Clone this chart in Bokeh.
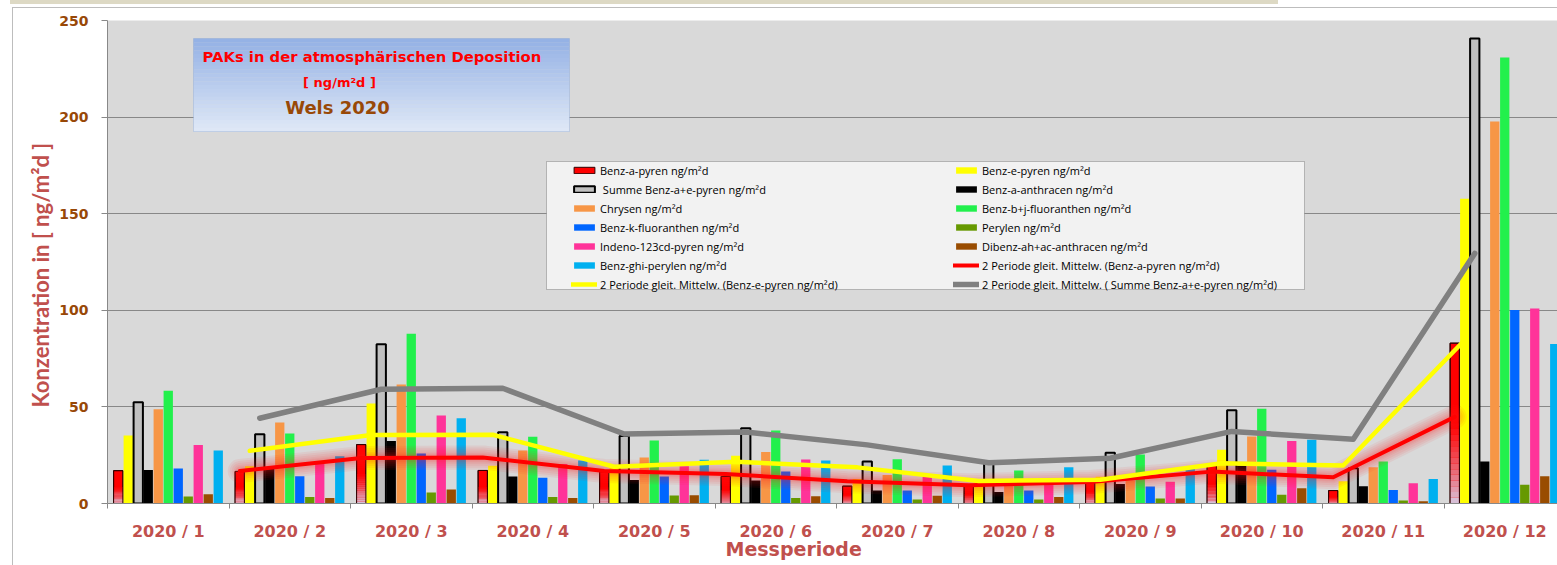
import numpy as np
import pandas as pd
from bokeh.plotting import figure
from bokeh.models import (FixedTicker, Legend, LegendItem, Label, BoxAnnotation,
                          ColumnDataSource, Range1d, Title)
from bokeh.embed import file_html
from bokeh.resources import INLINE

# ---------------- data ----------------
periods = list(range(1, 13))
period_labels = [f"2020 / {i}" for i in periods]

benz_a_pyren = [17.0, 16.6, 30.5, 17.1, 16.5, 14.0, 9.0, 9.8, 12.5, 20.5, 6.7, 83.0]
benz_e_pyren = [35.2, 19.3, 51.7, 19.5, 18.5, 24.7, 12.7, 10.7, 13.8, 27.8, 11.5, 157.7]
summe_a_e = [52.4, 35.9, 82.4, 36.9, 35.0, 39.0, 21.7, 20.5, 26.3, 48.3, 18.2, 240.7]
benz_a_anthracen = [17.4, 18.0, 32.4, 14.0, 12.2, 11.9, 6.7, 5.9, 10.1, 19.6, 8.9, 21.7]
chrysen = [48.8, 41.9, 61.6, 27.4, 23.8, 26.6, 14.8, 11.5, 12.0, 34.7, 18.7, 197.7]
benz_bj_fluoranthen = [58.3, 36.2, 87.9, 34.5, 32.6, 37.8, 22.9, 17.1, 25.3, 49.1, 21.8, 230.8]
benz_k_fluoranthen = [18.1, 14.1, 25.9, 13.3, 14.0, 16.6, 6.7, 6.7, 8.8, 17.5, 7.0, 100.2]
perylen = [3.6, 3.4, 5.7, 3.4, 4.1, 2.9, 2.1, 2.1, 2.6, 4.5, 1.5, 9.7]
indeno_pyren = [30.3, 20.5, 45.5, 20.5, 19.3, 22.8, 14.0, 11.0, 11.3, 32.3, 10.5, 100.9]
dibenz_anthracen = [4.8, 2.8, 7.2, 2.8, 4.3, 3.8, 4.0, 3.3, 2.6, 7.9, 1.2, 14.1]
benz_ghi_perylen = [27.4, 24.5, 44.1, 22.2, 22.6, 22.2, 19.7, 18.8, 17.9, 33.0, 12.7, 82.6]

y_ticks = [0, 50, 100, 150, 200, 250]

# ---------------- layout ----------------
W, H = 1557, 565
PAGE_L, PAGE_T, PAGE_B = 107, 20, 503      # frame edges in the picture
CAT_PX = 121.5
frame_w = W - PAGE_L
X0 = 0.5
X1 = X0 + frame_w / CAT_PX
PX_PER_Y = (PAGE_B - PAGE_T) / 250.0


def dx(px):
    return X0 + (px - PAGE_L) / CAT_PX


def dy(py):
    return (PAGE_B - py) / PX_PER_Y


p = figure(width=W, height=H, x_range=Range1d(X0, X1), y_range=Range1d(0, 250),
           output_backend="svg", toolbar_location=None,
           min_border_left=PAGE_L, min_border_right=0,
           min_border_top=PAGE_T, min_border_bottom=H - PAGE_B)
p.background_fill_color = "#d9d9d9"
p.border_fill_color = None
p.outline_line_color = None
p.styles = {
    "background-color": "white",
    "background-image": ("linear-gradient(#ddd9c4, #ddd9c4), "
                         "linear-gradient(#bdbdbd, #bdbdbd), "
                         "linear-gradient(#bdbdbd, #bdbdbd)"),
    "background-size": "1268px 4px, 100% 1px, 1px 100%",
    "background-position": "10px 0px, 12px 7px, 12px 7px",
    "background-repeat": "no-repeat",
}
p.xgrid.grid_line_color = None
p.ygrid.grid_line_color = "#888888"
p.ygrid.grid_line_width = 1

# axes
p.yaxis.ticker = FixedTicker(ticks=y_ticks)
p.yaxis.axis_line_color = "#888888"
p.yaxis.major_tick_line_color = "#888888"
p.yaxis.major_tick_out = 6
p.yaxis.major_tick_in = 0
p.yaxis.minor_tick_line_color = None
p.yaxis.major_label_text_font = "DejaVu Sans"
p.yaxis.major_label_text_font_style = "bold"
p.yaxis.major_label_text_font_size = "14px"
p.yaxis.major_label_text_color = "#984807"
p.yaxis.major_label_standoff = 13

p.xaxis.ticker = FixedTicker(ticks=periods, minor_ticks=[i + 0.5 for i in range(0, 13)])
p.xaxis.major_label_overrides = {i: lab for i, lab in zip(periods, period_labels)}
p.xaxis.axis_line_color = "#888888"
p.xaxis.major_tick_line_color = None
p.xaxis.major_tick_out = 0
p.xaxis.major_tick_in = 0
p.xaxis.minor_tick_line_color = "#888888"
p.xaxis.minor_tick_out = 5
p.xaxis.minor_tick_in = 0
p.xaxis.major_label_text_font = "DejaVu Sans"
p.xaxis.major_label_text_font_style = "bold"
p.xaxis.major_label_text_font_size = "16px"
p.xaxis.major_label_text_color = "#c0504d"
p.xaxis.major_label_standoff = 13

# axis titles as side titles (placed off-centre like the reference)
p.add_layout(Title(text="Konzentration in [ ng/m²d ]", align="left", offset=PAGE_B - 407,
                   standoff=5, text_font="Lato", text_font_style="bold",
                   text_font_size="22px", text_color="#c0504d"), "left")
p.add_layout(Title(text="Messperiode", align="left", offset=725 - PAGE_L, standoff=-12,
                   vertical_align="top",
                   text_font="DejaVu Sans", text_font_style="bold",
                   text_font_size="19px", text_color="#c0504d"), "below")

# ---------------- bars ----------------
SLOT = 10.0 / CAT_PX
BW = 9.3 / CAT_PX
px = np.array(periods, dtype=float)


def xoff(k):
    return px + (k - 5) * SLOT


series = [
    ("Benz-a-pyren ng/m²d", benz_a_pyren, "#ff0000"),
    ("Benz-e-pyren ng/m²d", benz_e_pyren, "#ffff00"),
    (" Summe Benz-a+e-pyren ng/m²d", summe_a_e, "#c0c0c0"),
    ("Benz-a-anthracen ng/m²d", benz_a_anthracen, "#000000"),
    ("Chrysen ng/m²d", chrysen, "#f79646"),
    ("Benz-b+j-fluoranthen ng/m²d", benz_bj_fluoranthen, "#22f04c"),
    ("Benz-k-fluoranthen ng/m²d", benz_k_fluoranthen, "#0066ff"),
    ("Perylen ng/m²d", perylen, "#669900"),
    ("Indeno-123cd-pyren ng/m²d", indeno_pyren, "#ff3399"),
    ("Dibenz-ah+ac-anthracen ng/m²d", dibenz_anthracen, "#994c00"),
    ("Benz-ghi-perylen ng/m²d", benz_ghi_perylen, "#00b0f0"),
]

rend = {}
for k, (name, vals, col) in enumerate(series):
    src = ColumnDataSource(dict(x=xoff(k), top=np.array(vals)))
    if k == 0:
        r = p.vbar(x="x", top="top", width=BW, source=src, fill_color=col,
                   line_color="#300000", line_width=1)
        # gradient in the lower half of the red bars
        vals_arr = np.array(vals)
        nsl = 14
        c0 = np.array([214, 206, 230])
        c1 = np.array([255, 0, 0])
        for j in range(nsl):
            f0 = 0.5 * j / nsl
            f1 = 0.5 * (j + 1) / nsl
            t = (j + 0.5) / nsl
            c = (c0 + (c1 - c0) * t ** 0.8).astype(int)
            p.vbar(x=xoff(k), bottom=vals_arr * f0, top=vals_arr * f1, width=BW,
                   fill_color="#%02x%02x%02x" % tuple(c), line_color=None)
        p.vbar(x=xoff(k), top=vals_arr, width=BW, fill_color=None,
               line_color="#300000", line_width=1)
    elif k == 2:
        r = p.vbar(x="x", top="top", width=BW, source=src, fill_color=col,
                   line_color="#000000", line_width=2)
    else:
        r = p.vbar(x="x", top="top", width=BW, source=src, fill_color=col,
                   line_color=None)
    rend[k] = r

# ---------------- 2-period moving averages ----------------
ma_red = pd.Series(benz_a_pyren).rolling(2).mean().to_numpy()[1:]
ma_yel = pd.Series(benz_e_pyren).rolling(2).mean().to_numpy()[1:]
ma_sum = pd.Series(summe_a_e).rolling(2).mean().to_numpy()[1:]

for w in [24, 20, 16, 12, 9, 7]:
    p.line(xoff(0)[1:], ma_red, line_color="#ff2020", line_width=w, line_alpha=0.07,
           line_join="round", line_cap="round")
r_rma = p.line(xoff(0)[1:], ma_red, line_color="#ff0000", line_width=4,
               line_join="round", line_cap="round")
r_yma = p.line(xoff(1)[1:], ma_yel, line_color="#ffff00", line_width=4.5,
               line_join="round", line_cap="round")
r_gma = p.line(xoff(2)[1:], ma_sum, line_color="#808080", line_width=5.5,
               line_join="round", line_cap="round")

# ---------------- legend ----------------
p.add_layout(BoxAnnotation(left=dx(546), right=dx(1304), top=dy(161), bottom=dy(289),
                           fill_color="#f2f2f2", fill_alpha=1, line_color="#404040",
                           line_width=1, level="underlay"))

col1 = [(series[0][0], rend[0]), (series[2][0], rend[2]), (series[4][0], rend[4]),
        (series[6][0], rend[6]), (series[8][0], rend[8]), (series[10][0], rend[10]),
        ("2 Periode gleit. Mittelw. (Benz-e-pyren ng/m²d)", r_yma)]
col2 = [(series[1][0], rend[1]), (series[3][0], rend[3]), (series[5][0], rend[5]),
        (series[7][0], rend[7]), (series[9][0], rend[9]),
        ("2 Periode gleit. Mittelw. (Benz-a-pyren ng/m²d)", r_rma),
        ("2 Periode gleit. Mittelw. ( Summe Benz-a+e-pyren ng/m²d)", r_gma)]

PAD = 2
ITEM_H, SPACING = 15, 4
leg_h = 2 * PAD + 7 * ITEM_H + 6 * SPACING
leg_bottom_page = 160.5 - PAD + leg_h
for items, xpage in [(col1, 573), (col2, 955)]:
    leg = Legend(items=[LegendItem(label=t, renderers=[r]) for t, r in items],
                 location=(xpage - PAGE_L - PAD, PAGE_B - leg_bottom_page),
                 orientation="vertical", padding=PAD, margin=0, spacing=SPACING,
                 glyph_width=26, glyph_height=8, label_height=ITEM_H,
                 label_standoff=3, border_line_color=None, background_fill_alpha=0,
                 label_text_font="Open Sans", label_text_font_size="11px",
                 label_text_color="#000000")
    p.add_layout(leg)

# ---------------- title box ----------------
nstr = 24
top_c = np.array([148, 177, 229])
bot_c = np.array([224, 233, 247])
ytop, ybot = 38.0, 131.0
for j in range(nstr):
    y_a = ytop + (ybot - ytop) * j / nstr
    y_b = ytop + (ybot - ytop) * (j + 1) / nstr
    c = (top_c + (bot_c - top_c) * (j + 0.5) / nstr).astype(int)
    p.add_layout(BoxAnnotation(left=dx(193), right=dx(569), top=dy(y_a), bottom=dy(y_b + 0.3),
                               fill_color="#%02x%02x%02x" % tuple(c), fill_alpha=1,
                               line_color=None))
p.add_layout(BoxAnnotation(left=dx(193), right=dx(569), top=dy(ytop), bottom=dy(ybot),
                           fill_alpha=0, line_color="#7a9bd0", line_width=1))

p.add_layout(Label(x=dx(202), y=dy(56), text="PAKs in der atmosphärischen Deposition",
                   text_align="left", text_baseline="middle", text_font="DejaVu Sans",
                   text_font_style="bold", text_font_size="14.8px", text_color="#ff0000"))
p.add_layout(Label(x=dx(339), y=dy(82), text="[ ng/m²d ]",
                   text_align="center", text_baseline="middle", text_font="DejaVu Sans",
                   text_font_style="bold", text_font_size="13px", text_color="#ff0000"))
p.add_layout(Label(x=dx(337), y=dy(106.5), text="Wels 2020",
                   text_align="center", text_baseline="middle", text_font="DejaVu Sans",
                   text_font_style="bold", text_font_size="18px", text_color="#984807"))

open("out.html", "w").write(file_html(p, INLINE))
